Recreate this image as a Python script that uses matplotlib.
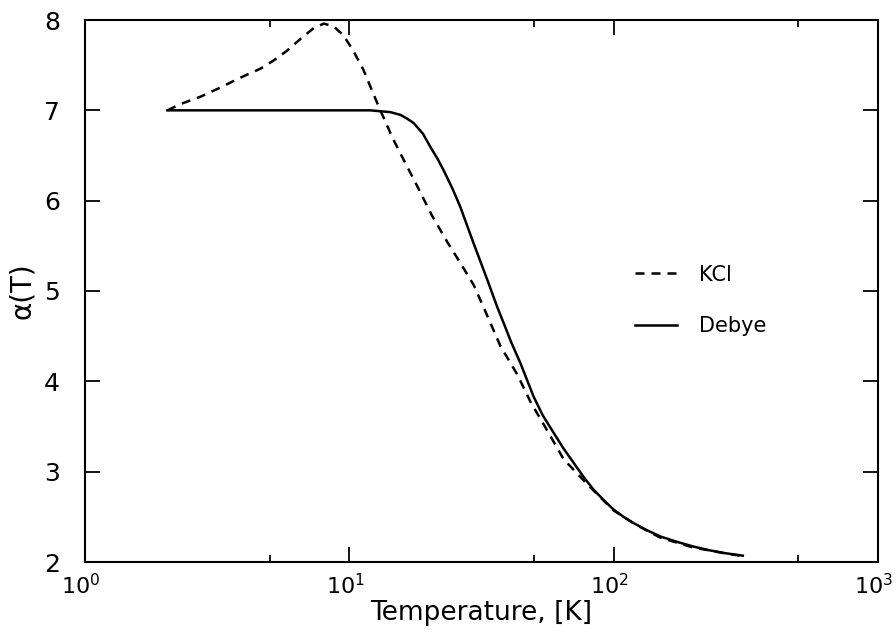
import matplotlib
matplotlib.use("Agg")
import matplotlib.pyplot as plt
import matplotlib.transforms as mtransforms
from matplotlib.ticker import FixedLocator, NullFormatter

# KCl thermal-expansion-like coefficient (dashed) and Debye model (solid)
kcl_T = [2.05, 2.3, 2.73, 3.24, 3.86, 4.6, 5.16, 5.81, 6.53, 7.33, 8.0, 8.72,
         9.5, 10.3, 11.3, 12.3, 13.1, 14.6, 16.0, 18.0, 20.5, 23.5, 26.3, 29.5,
         32.2, 37.3, 43.3, 48.5, 56.2, 64.6, 79.5, 100, 120, 150, 200, 260, 300]
kcl_alpha = [7.0, 7.07, 7.15, 7.25, 7.36, 7.46, 7.55, 7.66, 7.79, 7.91, 7.96, 7.93,
             7.83, 7.67, 7.45, 7.19, 7.0, 6.69, 6.46, 6.17, 5.84, 5.54, 5.31, 5.07,
             4.82, 4.39, 4.07, 3.77, 3.45, 3.14, 2.86, 2.57, 2.42, 2.27, 2.16, 2.10, 2.07]

debye_T = [2.05, 5, 10, 12, 13.1, 14.3, 15.6, 16.5, 17.5, 19.0, 20.3, 21.5, 22.7,
           24.5, 26.3, 29.5, 31.3, 33.3, 36.3, 38.3, 41.0, 44.4, 49.8, 54.0, 59.3,
           64.5, 70.5, 77.0, 84, 92, 100, 109, 119, 134, 151, 175, 201, 230, 261, 308]
debye_alpha = [7.0, 7.0, 7.0, 7.0, 6.99, 6.98, 6.95, 6.91, 6.86, 6.74, 6.59, 6.47, 6.34,
               6.14, 5.93, 5.53, 5.33, 5.12, 4.82, 4.65, 4.43, 4.20, 3.83, 3.62, 3.43,
               3.26, 3.10, 2.94, 2.80, 2.68, 2.58, 2.50, 2.43, 2.35, 2.28, 2.22, 2.17,
               2.13, 2.10, 2.07]

x_major = [1, 10, 100, 1000]
x_major_labels = [r"$10^0$", r"$10^1$", r"$10^2$", r"$10^3$"]
x_minor = [5, 50, 500]
y_ticks = [2, 3, 4, 5, 6, 7, 8]

plt.rcParams["font.family"] = "DejaVu Sans"
plt.rcParams["mathtext.fontset"] = "dejavusans"

fig = plt.figure(figsize=(8.96, 6.35), dpi=100)
ax = fig.add_axes([85 / 896, 1 - 562 / 635, (878 - 85) / 896, (562 - 20) / 635])

ax.plot(kcl_T, kcl_alpha, color="black", lw=1.8, linestyle=(0, (3.6, 2.8)), label="KCl")
ax.plot(debye_T, debye_alpha, color="black", lw=1.8, label="Debye")

ax.set_xscale("log")
ax.set_xlim(1, 1000)
ax.set_ylim(2, 8)

ax.xaxis.set_major_locator(FixedLocator(x_major))
ax.set_xticklabels(x_major_labels)
ax.xaxis.set_minor_locator(FixedLocator(x_minor))
ax.xaxis.set_minor_formatter(NullFormatter())
ax.set_yticks(y_ticks)
ax.set_yticklabels([str(v) for v in y_ticks])

ax.tick_params(axis="both", which="major", direction="in", length=11, width=1.3,
               top=True, right=True)
ax.tick_params(axis="x", which="major", pad=8, labelsize=16)
ax.tick_params(axis="y", which="major", pad=18, labelsize=18)
ax.tick_params(axis="x", which="minor", direction="in", length=5, width=1.3,
               top=True, bottom=True)

# nudge the power-of-ten labels a little to the left
shift = mtransforms.ScaledTranslation(-4 / 100, 0, fig.dpi_scale_trans)
for lbl in ax.get_xticklabels():
    lbl.set_transform(lbl.get_transform() + shift)

for s in ax.spines.values():
    s.set_linewidth(1.5)

ax.set_xlabel("Temperature, [K]", fontsize=19, labelpad=1)
ax.set_ylabel("α(T)", fontsize=20, labelpad=6)

ax.legend(loc="center left", bbox_to_anchor=(0.694, 0.483), frameon=False,
          fontsize=15, handlelength=2.0, handletextpad=1.05, labelspacing=1.5,
          borderpad=0, borderaxespad=0)

fig.savefig("out.png", dpi=100)
